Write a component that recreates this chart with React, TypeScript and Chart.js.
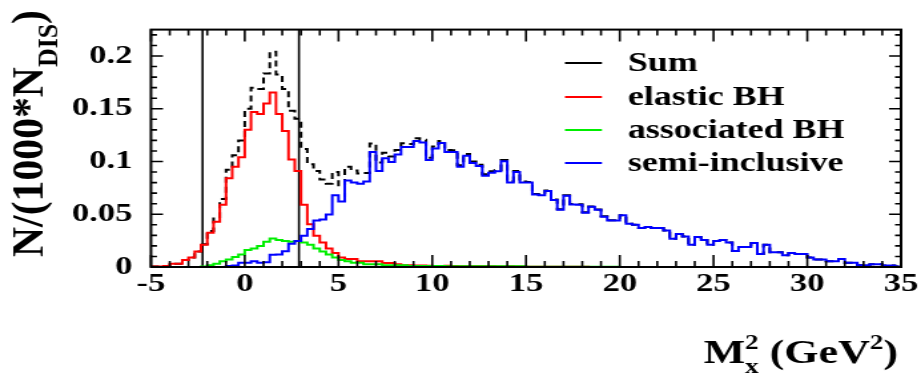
import React, { useEffect, useRef } from 'react';
import { Chart, registerables } from 'chart.js';

Chart.register(...registerables);

// ---------- data ----------
const BIN_LOW = -5;
const BIN_HIGH = 35;
const N_BINS = 120;

// elastic BH (red)
const elasticBH = [
  0.0005, 0.0005, 0.001, 0.003, 0.003, 0.0066, 0.009, 0.0147, 0.021, 0.0325,
  0.043, 0.059, 0.084, 0.095, 0.104, 0.13, 0.147, 0.145, 0.155, 0.1655,
  0.145, 0.129, 0.102, 0.091, 0.059, 0.0405, 0.0296, 0.0233, 0.0175, 0.0132,
  0.0089, 0.0075, 0.0075, 0.0055, 0.0055, 0.0055, 0.0055, 0.0037, 0.0037, 0.0026,
  0.0017, 0.0017, 0.0015, 0.0015, 0.0012, 0.001, 0.001, 0.0012, 0.001, 0.0008,
  0.0008, 0.0006, 0.0006, 0.0008, 0.0006, 0.0005, 0.0005, 0.0006, 0.0004, 0.0004,
  0.0003, 0.0003, 0.0003, 0.0003, 0.0002, 0.0002, 0.0002, 0.0002, 0.0002, 0.0002,
  0.0001, 0.0001, 0.0001, 0.0001, 0.0001, 0, 0, 0, 0, 0,
  0, 0, 0, 0, 0, 0, 0, 0, 0, 0,
  0, 0, 0, 0, 0, 0, 0, 0, 0, 0,
  0, 0, 0, 0, 0, 0, 0, 0, 0, 0,
  0, 0, 0, 0, 0, 0, 0, 0, 0, 0,
];

// associated BH (green)
const associatedBH = [
  0, 0, 0, 0, 0, 0, 0, 0, 0.0005, 0.0017,
  0.003, 0.0055, 0.0072, 0.0095, 0.0118, 0.016, 0.0175, 0.0198, 0.0239, 0.027,
  0.0256, 0.0247, 0.024, 0.0247, 0.0233, 0.021, 0.0175, 0.0147, 0.0118, 0.0089,
  0.0066, 0.0055, 0.004, 0.004, 0.0026, 0.0026, 0.0026, 0.0017, 0.0017, 0.0017,
  0.0017, 0.001, 0.001, 0.001, 0.001, 0.001, 0.001, 0.0007, 0.0007, 0.0007,
  0.0007, 0.0007, 0.0007, 0.0007, 0.0007, 0.0007, 0.0007, 0.0007, 0.0007, 0.0007,
  0.0002, 0.0002, 0.0002, 0.0002, 0.0002, 0.0002, 0.0002, 0.0002, 0.0002, 0.0002,
  0.0002, 0.0002, 0.0002, 0.0002, 0.0002, 0, 0, 0, 0, 0,
  0, 0, 0, 0, 0, 0, 0, 0, 0, 0,
  0, 0, 0, 0, 0, 0, 0, 0, 0, 0,
  0, 0, 0, 0, 0, 0, 0, 0, 0, 0,
  0, 0, 0, 0, 0, 0, 0, 0, 0, 0,
];

// semi-inclusive (blue)
const semiInclusive = [
  0, 0, 0, 0, 0, 0, 0, 0, 0, 0,
  0, 0, 0.001, 0.0015, 0.004, 0.004, 0.0055, 0.004, 0.0045, 0.0115,
  0.0118, 0.015, 0.022, 0.0247, 0.0296, 0.036, 0.044, 0.045, 0.0497, 0.068,
  0.062, 0.082, 0.08, 0.079, 0.081, 0.109, 0.091, 0.103, 0.0994, 0.1066,
  0.1138, 0.1138, 0.1195, 0.118, 0.1014, 0.1123, 0.1175, 0.109, 0.109, 0.095,
  0.1055, 0.0986, 0.0957, 0.0865, 0.0894, 0.0908, 0.1003, 0.08, 0.09, 0.08,
  0.08, 0.0687, 0.068, 0.072, 0.0635, 0.0543, 0.0675, 0.0592, 0.059, 0.0514,
  0.057, 0.0543, 0.0477, 0.044, 0.044, 0.049, 0.041, 0.04, 0.037, 0.038,
  0.037, 0.037, 0.0347, 0.0267, 0.0313, 0.029, 0.021, 0.0284, 0.0256, 0.021,
  0.0247, 0.0256, 0.0233, 0.0152, 0.019, 0.019, 0.0227, 0.0123, 0.021, 0.014,
  0.014, 0.0112, 0.0132, 0.0123, 0.0123, 0.0089, 0.0072, 0.0072, 0.0055, 0.0055,
  0.0075, 0.004, 0.004, 0.0017, 0.0017, 0.0026, 0.0026, 0.0014, 0.0014, 0.0005,
];

// Sum of the three contributions (dashed black)
const sumAll = elasticBH.map((v, i) => v + associatedBH[i] + semiInclusive[i]);

// vertical cut lines on M_x^2
const cutPositions = [-2.25, 2.89];

const legendLabels = ['Sum', 'elastic BH', 'associated BH', 'semi-inclusive'];
const legendColors = ['#000000', '#ff0000', '#00ee00', '#0000ff'];

const xTickValues = [-5, 0, 5, 10, 15, 20, 25, 30, 35];
const yTickValues = [0, 0.05, 0.1, 0.15, 0.2];
const yTickLabels = ['0', '0.05', '0.1', '0.15', '0.2'];

const X_MIN = -5;
const X_MAX = 35;
const Y_MIN = 0;
const Y_MAX = 0.225;

// ---------- layout ----------
const SCREEN_W = 921;
const SCREEN_H = 376;
const STRETCH = 1.331; // figure is horizontally stretched
const LW = Math.round(SCREEN_W / STRETCH); // logical canvas width
const FONT_FAMILY = "'Liberation Serif', 'Times New Roman', serif";

const binEdges = Array.from({ length: N_BINS + 1 }, (_, i) => BIN_LOW + (i * (BIN_HIGH - BIN_LOW)) / N_BINS);

function histPoints(vals: number[]) {
  const pts = vals.map((v, i) => ({ x: binEdges[i], y: v }));
  pts.push({ x: binEdges[N_BINS], y: vals[N_BINS - 1] });
  return pts;
}

type RichItem = { text: string; mode: 'n' | 'sub' | 'sup'; stack?: boolean };

function drawRich(ctx: CanvasRenderingContext2D, items: RichItem[], F: number, draw: boolean): number {
  let x = 0;
  let stackW = 0;
  for (const it of items) {
    const size = it.mode === 'n' ? F : F * 0.62;
    ctx.font = `bold ${size}px ${FONT_FAMILY}`;
    const w = ctx.measureText(it.text).width;
    const dy = it.mode === 'sub' ? F * 0.3 : it.mode === 'sup' ? -F * 0.42 : 0;
    if (draw) ctx.fillText(it.text, x, dy);
    if (it.stack) {
      stackW = w;
    } else {
      x += Math.max(w, stackW);
      stackW = 0;
    }
  }
  return x;
}

const decorPlugin = {
  id: 'decor',
  afterDraw(chart: any) {
    const { ctx, chartArea: ca, scales } = chart;
    const xs = scales.x;
    const ys = scales.y;
    ctx.save();
    ctx.strokeStyle = '#000';
    ctx.fillStyle = '#000';

    // inward ticks
    ctx.lineWidth = 1.6;
    ctx.beginPath();
    for (let v = X_MIN; v <= X_MAX; v += 1) {
      const px = xs.getPixelForValue(v);
      const len = v % 5 === 0 ? 12 : 6;
      ctx.moveTo(px, ca.bottom);
      ctx.lineTo(px, ca.bottom - len);
      ctx.moveTo(px, ca.top);
      ctx.lineTo(px, ca.top + len);
    }
    for (let k = 0; k <= 22; k++) {
      const py = ys.getPixelForValue(k * 0.01);
      const len = (k % 5 === 0 ? 12 : 6) / STRETCH;
      ctx.moveTo(ca.left, py);
      ctx.lineTo(ca.left + len, py);
      ctx.moveTo(ca.right, py);
      ctx.lineTo(ca.right - len, py);
    }
    ctx.stroke();

    // frame
    ctx.lineWidth = 2;
    ctx.strokeRect(ca.left, ca.top, ca.right - ca.left, ca.bottom - ca.top);

    // legend
    const rowY = [63, 97, 130, 163];
    const lx0 = 565 / STRETCH;
    const lx1 = 602 / STRETCH;
    const tx = 628 / STRETCH;
    ctx.textBaseline = 'middle';
    ctx.textAlign = 'left';
    legendLabels.forEach((lab, i) => {
      ctx.strokeStyle = legendColors[i];
      ctx.lineWidth = 2;
      ctx.beginPath();
      ctx.moveTo(lx0, rowY[i]);
      ctx.lineTo(lx1, rowY[i]);
      ctx.stroke();
      ctx.fillStyle = '#000';
      ctx.font = `bold 27px ${FONT_FAMILY}`;
      ctx.fillText(lab, tx, rowY[i] + 1);
    });

    // x title: M_x^2 (GeV^2)
    ctx.textBaseline = 'alphabetic';
    const xItems: RichItem[] = [
      { text: 'M', mode: 'n' },
      { text: 'x', mode: 'sub', stack: true },
      { text: '2', mode: 'sup' },
      { text: ' (GeV', mode: 'n' },
      { text: '2', mode: 'sup' },
      { text: ')', mode: 'n' },
    ];
    const xF = 33;
    const xw = drawRich(ctx, xItems, xF, false);
    ctx.save();
    ctx.translate(898 / STRETCH - xw, 363);
    drawRich(ctx, xItems, xF, true);
    ctx.restore();

    // y title: N/(1000*N_DIS)
    const yItems: RichItem[] = [
      { text: 'N/(1000*N', mode: 'n' },
      { text: 'DIS', mode: 'sub' },
      { text: ')', mode: 'n' },
    ];
    const yF = 34;
    const yw = drawRich(ctx, yItems, yF, false);
    ctx.save();
    ctx.translate(43 / STRETCH, 257);
    ctx.rotate(-Math.PI / 2);
    ctx.scale(247 / yw, 1);
    drawRich(ctx, yItems, yF, true);
    ctx.restore();

    ctx.restore();
  },
};

export default function App() {
  const ref = useRef<HTMLCanvasElement | null>(null);

  useEffect(() => {
    const canvas = ref.current;
    if (!canvas) return;
    const tickFont = { family: FONT_FAMILY, weight: 'bold' as const, size: 26 };
    const histDs = (label: string, vals: number[], color: string, order: number, dash?: number[]) => ({
      label,
      data: histPoints(vals),
      borderColor: color,
      backgroundColor: color,
      borderWidth: 2,
      borderDash: dash || [],
      stepped: 'before' as const,
      pointRadius: 0,
      fill: false,
      order,
    });
    const chart = new Chart(canvas, {
      type: 'line',
      data: {
        datasets: [
          histDs('semi-inclusive', semiInclusive, '#0000ff', 0),
          histDs('associated BH', associatedBH, '#00ee00', 1),
          histDs('elastic BH', elasticBH, '#ff0000', 2),
          histDs('Sum', sumAll, '#000000', 3, [6, 4]),
          ...cutPositions.map((c, i) => ({
            label: 'cut' + i,
            data: [
              { x: c, y: Y_MIN },
              { x: c, y: Y_MAX },
            ],
            borderColor: '#000000',
            borderWidth: 1.6,
            pointRadius: 0,
            fill: false,
            order: 4,
          })),
        ],
      },
      options: {
        animation: false,
        responsive: false,
        maintainAspectRatio: false,
        devicePixelRatio: 1,
        layout: { padding: { top: 6, right: LW - 902 / STRETCH, left: 0, bottom: 0 } },
        plugins: {
          legend: { display: false },
          tooltip: { enabled: false },
          title: { display: false },
        },
        elements: { point: { radius: 0 }, line: { tension: 0 } },
        scales: {
          x: {
            type: 'linear',
            min: X_MIN,
            max: X_MAX,
            grid: { display: false, drawTicks: false },
            border: { display: false },
            ticks: {
              autoSkip: false,
              maxRotation: 0,
              padding: 2,
              color: '#000',
              font: tickFont,
              callback: (v: any) => String(v),
            },
            afterBuildTicks: (s: any) => {
              s.ticks = xTickValues.map((v) => ({ value: v }));
            },
            afterFit: (s: any) => {
              s.height = SCREEN_H - 267;
            },
          },
          y: {
            type: 'linear',
            min: Y_MIN,
            max: Y_MAX,
            grid: { display: false, drawTicks: false },
            border: { display: false },
            ticks: {
              autoSkip: false,
              padding: 14,
              color: '#000',
              font: tickFont,
              callback: (v: any, i: number) => yTickLabels[i] ?? String(v),
            },
            afterBuildTicks: (s: any) => {
              s.ticks = yTickValues.map((v) => ({ value: v }));
            },
            afterFit: (s: any) => {
              s.width = 151 / STRETCH;
            },
          },
        },
      } as any,
      plugins: [decorPlugin],
    });
    return () => chart.destroy();
  }, []);

  return (
    <div style={{ position: 'fixed', left: 0, top: 0, width: SCREEN_W, height: SCREEN_H, background: '#fff' }}>
      <canvas
        ref={ref}
        width={LW}
        height={SCREEN_H}
        style={{ width: SCREEN_W + 'px', height: SCREEN_H + 'px', display: 'block' }}
      />
    </div>
  );
}
